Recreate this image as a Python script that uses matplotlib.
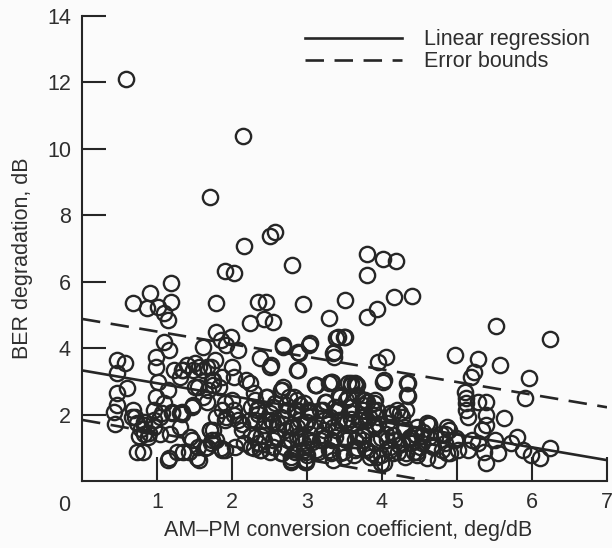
import matplotlib.pyplot as plt
from matplotlib.lines import Line2D

# scattered measurements (AM-PM coefficient, BER degradation)
am_pm = [
    0.59, 2.14, 1.70, 2.16, 2.50, 2.57, 2.80, 3.80, 4.01, 4.18, 3.80, 1.90, 2.03, 1.18,
    0.68, 0.91, 0.86, 1.01, 1.09, 1.18, 1.14, 1.79, 2.34, 2.45, 2.94, 3.51, 3.80, 3.93,
    4.16, 4.40, 2.24, 2.42, 2.55, 3.29, 5.52, 6.24, 1.79, 1.09, 1.16,
    0.42, 0.44, 0.46, 0.47, 0.57, 0.47, 0.60, 0.47, 0.68, 0.70,
    0.73, 0.78, 0.83, 0.73, 0.81, 0.83, 0.99, 0.99, 1.01, 0.99, 0.96, 1.04, 0.96, 0.88,
    1.04, 1.14, 1.20, 1.17, 1.14, 1.09,
    1.22, 1.30, 1.35, 1.40, 1.48, 1.56, 1.61, 1.48, 1.30, 1.27, 1.35, 1.46, 1.56, 1.51,
    1.61, 1.61, 1.72, 1.77, 1.74, 1.74, 1.66, 1.79, 1.74, 1.72, 1.85, 1.64,
    1.85, 1.98, 1.92, 2.08, 2.00, 1.87, 2.03, 1.90, 2.00, 1.92, 2.08, 2.03, 2.13, 2.18,
    2.24, 2.31, 2.34, 2.31, 2.26, 2.34, 2.37, 2.50, 2.45, 2.37, 2.16,
    2.68, 2.89, 3.02, 2.86, 2.65, 2.76, 2.86, 2.96, 2.55, 2.50, 2.65, 2.55, 2.71, 2.60,
    2.78, 2.55, 2.65, 2.78, 2.94, 2.99, 2.91, 3.02, 2.86, 3.04, 2.96, 2.84,
    3.12, 3.33, 3.36, 3.36, 3.38, 3.49, 3.59, 3.64, 3.25, 3.43, 3.54, 3.17, 3.30, 3.43,
    3.49, 3.59, 3.61, 3.22, 3.38, 3.17, 3.33, 3.49, 3.12, 3.33, 3.49, 3.64, 3.64,
    3.80, 3.90, 3.95, 4.06, 4.03, 3.75, 3.88, 3.95, 3.82, 3.69, 4.11, 4.24, 4.35, 4.35,
    4.32, 3.77, 3.90, 4.06, 4.16, 4.27, 4.37, 3.80, 3.93, 4.03, 4.21, 4.32, 4.11,
    4.45, 4.53, 4.63, 4.63, 4.68, 4.47, 4.79, 4.89, 4.84, 4.97, 4.97, 4.86, 5.02,
    5.10, 5.12, 5.12, 5.12, 5.15, 5.18, 5.23, 5.28, 5.28, 5.39, 5.39, 5.39, 5.33, 5.62,
    5.57, 5.20, 5.15, 5.36, 5.39, 5.51, 5.54, 5.28,
    5.72, 5.80, 5.91, 5.96, 5.88, 5.98, 6.11, 6.24,
    2.68, 2.88, 3.04, 3.41, 3.51, 3.35, 2.52, 2.88, 3.12, 3.32, 3.55, 3.64, 2.68,
    2.57, 2.72, 2.86, 3.01, 3.21, 3.37, 3.52, 3.66, 3.77,
    2.52, 2.68, 2.81, 2.97, 3.10, 3.28, 3.43, 3.59, 3.72,
    2.59, 2.75, 2.90, 3.06, 3.21, 3.37, 3.52, 3.68,
    2.66, 2.84, 3.00, 3.15, 3.32, 3.48, 3.63, 3.77, 2.79, 2.97,
    3.75, 3.89, 4.15, 4.27, 4.62, 4.86,
    3.80, 3.95, 4.11, 4.29, 4.42, 4.55, 4.71, 4.84, 4.98,
    3.75, 3.91, 4.07, 4.22, 4.38, 4.51, 4.66, 4.80,
    3.84, 3.99, 4.15, 4.31, 4.46, 4.60, 4.75, 4.91,
    1.33, 1.51, 1.66, 1.33, 1.46, 1.31, 1.44, 1.55, 1.71, 1.73, 1.86, 1.91, 2.02, 2.13,
    2.26, 2.35, 2.44, 2.31, 2.42, 2.26, 2.39, 2.04, 1.91, 1.73, 1.82, 1.68, 1.55,
    3.11, 3.29, 3.58, 3.67, 4.02, 4.33,
    2.29, 2.47, 2.67, 2.82, 3.24, 3.44, 4.33,
    2.33, 2.55, 2.73, 2.91, 3.04, 3.40, 3.58, 3.75, 3.93, 4.20,
    2.24, 2.42, 2.60, 2.78, 3.00, 3.22, 3.35, 3.53, 3.71, 3.89, 4.07, 4.29, 4.47, 4.60,
    2.38, 2.55, 2.87, 3.04, 3.18, 3.49, 3.75, 3.98, 4.15, 4.38, 4.53,
    2.29, 2.51, 2.69, 2.98, 3.29, 3.44, 3.67, 3.87, 4.11, 4.42,
    2.78, 2.98, 3.35, 3.98,
    0.67, 0.82, 0.96, 0.89, 1.07, 0.76, 1.71, 1.78, 1.67, 1.87, 1.20, 1.33, 1.42, 1.53,
    1.16,
]
ber_deg = [
    12.11, 10.39, 8.54, 7.08, 7.38, 7.49, 6.49, 6.84, 6.68, 6.63, 6.20, 6.33, 6.26, 5.95,
    5.37, 5.65, 5.20, 5.25, 5.05, 5.40, 4.85, 5.35, 5.40, 5.40, 5.32, 5.45, 4.95, 5.17,
    5.55, 5.57, 4.75, 4.87, 4.78, 4.90, 4.67, 4.28, 4.50, 4.20, 3.95,
    2.09, 1.72, 3.64, 3.24, 3.54, 2.64, 2.79, 2.29, 2.14, 1.94,
    1.74, 1.58, 1.43, 0.88, 0.88, 1.79, 3.74, 3.44, 2.99, 2.54, 2.14, 1.94, 1.63, 1.33,
    1.43, 2.74, 2.04, 1.43, 0.63, 2.34,
    3.34, 3.14, 3.34, 3.49, 3.34, 3.44, 3.34, 2.29, 2.04, 0.88, 0.88, 1.23, 0.63, 2.84,
    2.54, 4.04, 3.44, 3.64, 3.04, 2.89, 2.39, 1.94, 1.53, 1.13, 0.98, 0.98,
    4.25, 4.35, 4.10, 3.94, 3.44, 3.14, 3.14, 2.34, 2.44, 1.94, 1.84, 2.14, 1.53, 3.04,
    2.94, 2.44, 2.19, 1.84, 1.38, 1.13, 3.69, 3.44, 2.54, 0.93, 1.13,
    4.04, 3.84, 4.10, 3.34, 2.74, 2.54, 2.44, 2.34, 2.24, 2.04, 1.94, 1.74, 1.53, 1.33,
    1.23, 1.03, 0.83, 0.73, 1.13, 0.63, 1.84, 2.14, 1.64, 1.43, 0.93, 2.14,
    2.89, 2.99, 3.89, 3.74, 4.30, 4.35, 2.89, 2.89, 2.39, 2.59, 2.54, 2.14, 1.94, 2.14,
    1.84, 2.04, 1.74, 1.53, 1.53, 1.23, 1.23, 1.33, 0.93, 0.88, 0.73, 1.23, 0.93,
    2.39, 2.44, 3.59, 3.72, 3.04, 2.14, 2.14, 1.94, 1.94, 1.84, 2.04, 2.04, 2.94, 2.56,
    2.14, 1.53, 1.64, 1.43, 1.23, 1.13, 1.33, 0.93, 0.73, 0.53, 0.88, 0.83, 1.03,
    1.38, 1.13, 1.69, 1.33, 1.03, 0.88, 1.43, 1.53, 1.13, 3.79, 1.23, 0.83, 0.93,
    2.69, 2.49, 2.34, 2.14, 1.94, 3.14, 3.29, 3.66, 2.39, 2.39, 1.99, 1.69, 1.53, 1.89,
    3.49, 1.23, 0.93, 0.88, 0.53, 1.23, 0.83, 1.13,
    1.13, 1.33, 2.49, 3.09, 0.93, 0.78, 0.68, 0.98,
    4.10, 3.89, 4.15, 4.34, 4.34, 3.85, 3.50, 3.34, 2.90, 2.98, 2.95, 2.95, 2.83,
    2.34, 2.29, 2.13, 2.08, 2.13, 2.23, 2.44, 2.59, 2.44,
    1.83, 1.73, 1.63, 1.73, 1.63, 1.73, 1.83, 1.88, 1.93,
    1.33, 1.23, 1.33, 1.18, 1.28, 1.33, 1.23, 1.33,
    0.83, 0.88, 0.78, 0.88, 0.83, 0.88, 0.78, 0.98, 0.58, 0.58,
    2.44, 2.34, 2.03, 1.93, 1.73, 1.63,
    1.83, 1.73, 1.63, 1.53, 1.43, 1.48, 1.33, 1.43, 1.28,
    1.23, 1.13, 1.23, 1.08, 1.13, 1.03, 1.08, 0.93,
    0.73, 0.78, 0.83, 0.73, 0.78, 0.68, 0.63, 0.83,
    3.34, 3.54, 3.44, 2.03, 2.23, 1.63, 1.33, 1.03, 1.53, 1.23, 2.13, 1.83, 1.98, 1.73,
    2.23, 2.03, 1.83, 1.33, 1.23, 1.03, 0.93, 1.03, 0.93, 3.04, 2.84, 2.74, 2.84,
    2.89, 2.94, 2.94, 2.89, 2.99, 2.94,
    2.64, 2.54, 2.74, 2.54, 2.39, 2.54, 2.59,
    2.14, 2.24, 2.14, 2.29, 2.09, 2.14, 2.24, 2.29, 2.14, 2.14,
    1.84, 1.69, 1.74, 1.64, 1.79, 1.84, 1.64, 1.79, 1.84, 1.69, 1.74, 1.64, 1.64, 1.74,
    1.34, 1.24, 1.34, 1.24, 1.39, 1.29, 1.34, 1.29, 1.39, 1.29, 1.34,
    0.98, 0.88, 1.03, 0.88, 0.93, 0.83, 0.98, 0.83, 0.93, 0.88,
    0.63, 0.58, 0.63, 0.53,
    1.94, 1.69, 1.84, 1.44, 2.04, 1.34, 1.54, 1.23, 1.03, 0.93, 2.09, 2.09, 0.88, 0.68,
    0.68,
]

# fitted line and error bounds: intercept, slope
fit_x = [0.0, 7.0]
reg_coef = (3.33, -0.386)
upper_coef = (4.88, -0.380)
lower_coef = (1.84, -0.398)

ink = "#262626"
text_color = "#2e2e2e"
plt.rcParams["font.family"] = ["Liberation Sans", "DejaVu Sans"]

fig = plt.figure(figsize=(6.12, 5.48), dpi=100, facecolor="#fbfbfb")
ax = fig.add_axes([82 / 612, 1 - 481 / 548, 525 / 612, 465 / 548])
ax.set_facecolor("#fbfbfb")

ax.plot(am_pm, ber_deg, "o", ms=11, mfc="none", mec=ink, mew=1.7, zorder=3)

def line_y(coef):
    return [coef[0] + coef[1] * x for x in fit_x]

ax.plot(fit_x, line_y(reg_coef), color=ink, lw=1.9, zorder=2)
for coef in (upper_coef, lower_coef):
    ax.plot(fit_x, line_y(coef), color=ink, lw=1.9, dashes=(7, 4), zorder=2)

ax.set_xlim(0, 7)
ax.set_ylim(0, 14)
for side in ("top", "right"):
    ax.spines[side].set_visible(False)
for side in ("left", "bottom"):
    ax.spines[side].set_color(ink)
    ax.spines[side].set_linewidth(1.5)
    ax.spines[side].set_clip_on(False)

ax.set_xticks(range(1, 8))
ax.set_yticks(range(2, 15, 2))
ax.tick_params(direction="in", length=17, width=1.5, color=ink,
               labelcolor=text_color, labelsize=15.5, pad=8)
ax.annotate("0", (0, 0), xytext=(-13, -10), textcoords="offset points",
            ha="center", va="top", fontsize=15.5, color=text_color,
            annotation_clip=False)

ax.set_xlabel("AM\u2013PM conversion coefficient, deg/dB", fontsize=15.5, color=text_color)
ax.xaxis.set_label_coords(0.507, -0.083)
ax.set_ylabel("BER degradation, dB", fontsize=15.5, color=text_color)
ax.yaxis.set_label_coords(-0.093, 0.48)

handles = [Line2D([], [], color=ink, lw=1.9),
           Line2D([], [], color=ink, lw=1.9, dashes=(7, 4))]
ax.legend(handles, ["Linear regression", "Error bounds"], loc="upper left",
          bbox_to_anchor=(0.405, 0.995), frameon=False, fontsize=15.5,
          handlelength=4.5, handletextpad=1.0, labelspacing=0.05,
          borderpad=0, labelcolor=text_color)

fig.savefig("out.png", dpi=100, facecolor=fig.get_facecolor())
